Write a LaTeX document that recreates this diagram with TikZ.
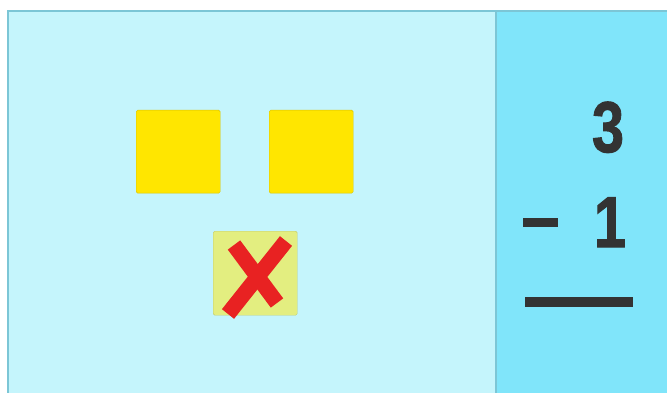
\documentclass[tikz,border=0pt]{standalone}
\usepackage{fontspec}
\setmainfont{Liberation Sans}
\newfontfamily\digitfont{Liberation Sans}[BoldFeatures={FakeBold=1.5}]
\definecolor{panelL}{HTML}{C5F5FC}
\definecolor{panelR}{HTML}{80E5FA}
\definecolor{edge}{HTML}{7CC6D6}
\definecolor{sq}{HTML}{FFE600}
\definecolor{sqfade}{HTML}{E3EE80}
\definecolor{xred}{HTML}{E82222}
\definecolor{ink}{HTML}{333333}
\tikzset{
  panel/.style={draw=edge, line width=2pt},
  tile/.style={fill=sq, draw=sq!85!black, line width=0.4pt, rounded corners=1.5pt},
  fadetile/.style={fill=sqfade, draw=sqfade!85!black, line width=0.4pt, rounded corners=1.5pt},
  xstroke/.style={draw=xred, line width=15.5pt},
  digit/.style={text=ink, font=\digitfont\fontsize{72}{72}\selectfont\bfseries, inner sep=0pt, xscale=0.8},
  bar/.style={fill=ink, draw=none}
}
\begin{document}
\begin{tikzpicture}[x=1pt,y=-1pt]
\useasboundingbox (0,0) rectangle (667,393);
\fill[white] (0,0) rectangle (667,393);
\clip (0,0) rectangle (667,393);
% panels
\path[panel, fill=panelL] (8,11) rectangle (496,400);
\path[panel, fill=panelR] (496,11) rectangle (680,400);
% tiles
\node[tile, minimum width=84pt, minimum height=83pt, inner sep=0pt, anchor=north west] (t1) at (136,110) {};
\node[tile, minimum width=84pt, minimum height=83pt, inner sep=0pt, anchor=north west] (t2) at (269,110) {};
\node[fadetile, minimum width=84pt, minimum height=84pt, inner sep=0pt, anchor=north west] (t3) at (213,231) {};
% red cross
\coordinate (a1) at (234,245);
\coordinate (a2) at (277,303);
\coordinate (b1) at (286,241);
\coordinate (b2) at (228,314);
\draw[xstroke] (a1) -- (a2);
\draw[xstroke] (b1) -- (b2);
% numbers
\node[digit, anchor=base] (n3) at (608,152) {3};
\node[digit, anchor=base] (n1) at (610,247) {1};
\fill[bar] (523,218) rectangle (558,227);
\fill[bar] (525,297) rectangle (633,307);
\end{tikzpicture}
\end{document}
